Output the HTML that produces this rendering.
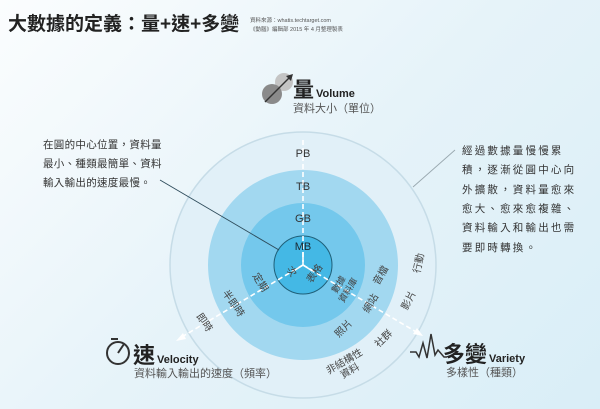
<!DOCTYPE html>
<html><head><meta charset="utf-8"><style>
html,body{margin:0;padding:0}
body{width:600px;height:409px;overflow:hidden;background:linear-gradient(135deg,#fbfdfe 0%,#e6f3f9 50%,#d9eef7 100%);font-family:"Liberation Sans","Noto Sans CJK TC",sans-serif;}
svg{position:absolute;left:0;top:0}
text{font-family:"Liberation Sans","Noto Sans CJK TC",sans-serif}
</style></head><body>
<svg width="600" height="409" viewBox="0 0 600 409">
<text x="8" y="30" font-size="19" font-weight="bold" fill="#222">大數據的定義：量+速+多變</text>
<text x="250" y="22" font-size="5.5" fill="#555">資料來源：whatis.techtarget.com</text>
<text x="250" y="31" font-size="5.5" fill="#555">《動腦》編輯部 2015 年 4 月整理製表</text>

<circle cx="303" cy="265" r="133" fill="#e1f0f8" stroke="#c6dce7" stroke-width="1.5"/>
<circle cx="303" cy="265" r="95" fill="#a2d8f0"/>
<circle cx="303" cy="265" r="62" fill="#74c8ec"/>
<circle cx="303" cy="265" r="29" fill="#44b8e5" stroke="#1f5f78" stroke-width="1"/>

<g stroke="#fff" stroke-width="1.6" stroke-dasharray="5,3" fill="none">
<line x1="303" y1="140" x2="303" y2="262"/>
<line x1="303" y1="265" x2="180" y2="338"/>
<line x1="303" y1="265" x2="418" y2="333"/>
</g>
<g stroke="#fff" stroke-width="1.6">
<line x1="303" y1="265" x2="303" y2="252"/>
<line x1="303" y1="265" x2="292" y2="272"/>
<line x1="303" y1="265" x2="314" y2="272"/>
</g>
<polygon points="176,341 183,333 186,339" fill="#fff"/>
<polygon points="423,336 413,334 417,328" fill="#fff"/>

<line x1="160" y1="180" x2="279" y2="250" stroke="#2d4b5a" stroke-width="0.9"/>
<line x1="455" y1="150" x2="413" y2="187" stroke="#9aa9b0" stroke-width="0.9"/>

<g font-size="11" fill="#333" text-anchor="middle">
<text x="303" y="157">PB</text>
<text x="303" y="190">TB</text>
<text x="303" y="222">GB</text>
<text x="303" y="250" fill="#1a2a33">MB</text>
</g>
<g font-size="10" fill="#444" text-anchor="middle">
<text transform="translate(292,271) rotate(55)" y="4">次</text>
<text transform="translate(314,273) rotate(-55)" y="4">表格</text>
<text transform="translate(261,282) rotate(58)" y="4">定期</text>
<text transform="translate(234,303) rotate(55)" y="4">半即時</text>
<text transform="translate(205,322) rotate(55)" y="4">即時</text>
<g transform="translate(343,287) rotate(-58)"><text y="-2" font-size="9">數據</text><text y="9" font-size="9">資料庫</text></g>
<text transform="translate(380,275) rotate(-60)" y="4">音檔</text>
<text transform="translate(418,263) rotate(-78)" y="4">行動</text>
<text transform="translate(370,303) rotate(-60)" y="4">網站</text>
<text transform="translate(408,300) rotate(-62)" y="4">影片</text>
<text transform="translate(343,328) rotate(-45)" y="4">照片</text>
<text transform="translate(383,338) rotate(-45)" y="4">社群</text>
<g transform="translate(347,366) rotate(-30)"><text y="-2">非結構性</text><text y="9">資料</text></g>
</g>

<g font-size="10.5" fill="#333" letter-spacing="0.3">
<text x="43" y="148">在圓的中心位置，資料量</text>
<text x="43" y="167">最小、種類最簡單、資料</text>
<text x="43" y="186">輸入輸出的速度最慢。</text>
</g>
<g font-size="10.5" fill="#333" letter-spacing="2.2">
<text x="462" y="154">經過數據量慢慢累</text>
<text x="462" y="173">積，逐漸從圓中心向</text>
<text x="462" y="193">外擴散，資料量愈來</text>
<text x="462" y="212">愈大、愈來愈複雜、</text>
<text x="462" y="231">資料輸入和輸出也需</text>
<text x="462" y="251">要即時轉換。</text>
</g>

<circle cx="284" cy="82" r="9" fill="#c4c4c4"/>
<circle cx="272" cy="94" r="10" fill="#8a8a8a"/>
<line x1="265" y1="102" x2="291" y2="76" stroke="#333" stroke-width="1.4"/>
<polygon points="293,74 286,76 291,81" fill="#333"/>
<text x="293" y="97" font-size="21" font-weight="bold" fill="#222">量</text>
<text x="316" y="97" font-size="11" font-weight="bold" fill="#222">Volume</text>
<text x="293" y="112" font-size="11" fill="#555">資料大小（單位）</text>

<circle cx="118" cy="353" r="11" fill="none" stroke="#333" stroke-width="2"/>
<line x1="118" y1="353" x2="124" y2="344" stroke="#333" stroke-width="2"/>
<line x1="111" y1="339" x2="118" y2="339" stroke="#333" stroke-width="2"/>
<text x="133" y="363" font-size="22" font-weight="bold" fill="#222">速</text>
<text x="157" y="363" font-size="11" font-weight="bold" fill="#222">Velocity</text>
<text x="134" y="377" font-size="11" fill="#555">資料輸入輸出的速度（頻率）</text>

<polyline points="410,352 416,352 419,357 423,343 427,358 431,334 435,355 438,350 444,357 447,357" fill="none" stroke="#333" stroke-width="1.5"/>
<text x="443" y="362" font-size="22" font-weight="bold" fill="#222">多變</text>
<text x="489" y="362" font-size="11" font-weight="bold" fill="#222">Variety</text>
<text x="446" y="376" font-size="11" fill="#555">多樣性（種類）</text>
</svg>
</body></html>
